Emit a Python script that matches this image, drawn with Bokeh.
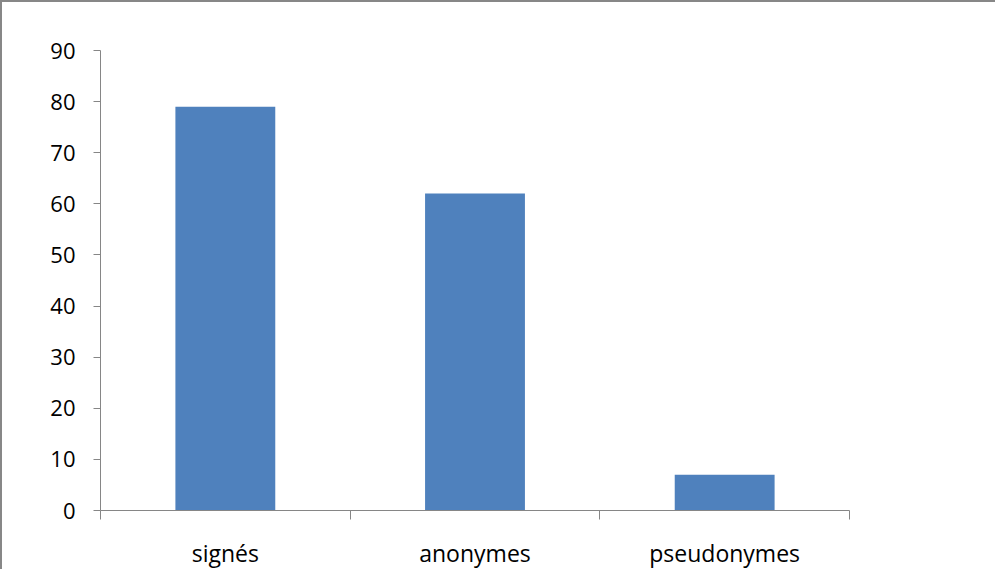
import numpy as np
from bokeh.plotting import figure
from bokeh.models import FixedTicker, Range1d, ColumnDataSource
from bokeh.embed import file_html
from bokeh.resources import INLINE

categories = ["signés", "anonymes", "pseudonymes"]
values = [79, 62, 7]
y_ticks = [0, 10, 20, 30, 40, 50, 60, 70, 80, 90]

x_pos = np.arange(len(categories)) + 0.5
source = ColumnDataSource(data=dict(x=x_pos, top=values, cat=categories))

p = figure(width=995, height=569, output_backend="svg", toolbar_location=None,
           x_range=Range1d(0, len(categories)), y_range=Range1d(0, 90),
           min_border_left=98, min_border_right=148, min_border_top=48, min_border_bottom=58,
           background_fill_color="white", border_fill_color="white",
           styles={"border-top": "2px solid #878787", "border-left": "2px solid #878787",
                   "box-sizing": "border-box"})
p.outline_line_color = None
p.grid.visible = False

p.vbar(x="x", top="top", width=0.4, bottom=0, source=source,
       fill_color="#4F81BD", line_color=None)

font = "Open Sans"
axis_color = "#868686"

xa = p.xaxis[0]
xa.ticker = FixedTicker(ticks=list(x_pos), minor_ticks=list(np.arange(len(categories) + 1)))
xa.major_label_overrides = {float(x): c for x, c in zip(x_pos, categories)}
xa.axis_line_color = axis_color
xa.major_tick_line_color = None
xa.major_tick_out = 0
xa.major_tick_in = 0
xa.minor_tick_line_color = axis_color
xa.minor_tick_out = 9
xa.minor_tick_in = 0
xa.major_label_standoff = 17
xa.major_label_text_font = font
xa.major_label_text_font_size = "23px"
xa.major_label_text_color = "#000000"

ya = p.yaxis[0]
ya.ticker = FixedTicker(ticks=y_ticks)
ya.axis_line_color = axis_color
ya.major_tick_line_color = axis_color
ya.major_tick_out = 7
ya.major_tick_in = 0
ya.minor_tick_line_color = None
ya.major_label_standoff = 18
ya.major_label_text_font = font
ya.major_label_text_font_size = "22px"
ya.major_label_text_color = "#000000"

open("out.html", "w").write(file_html(p, INLINE))
